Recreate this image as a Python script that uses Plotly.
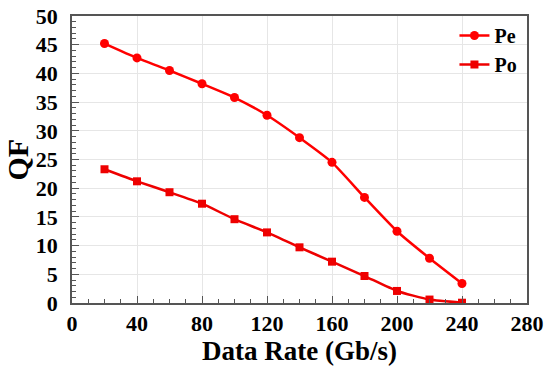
import plotly.graph_objects as go

data_rate = [20, 40, 60, 80, 100, 120, 140, 160, 180, 200, 220, 240]
pe = [45.2, 42.7, 40.5, 38.2, 35.8, 32.7, 28.8, 24.5, 18.4, 12.5, 7.8, 3.4]
po = [23.3, 21.2, 19.3, 17.3, 14.6, 12.3, 9.7, 7.2, 4.7, 2.1, 0.6, 0.05]

font = "Liberation Serif"
fig = go.Figure()
fig.add_trace(go.Scatter(x=data_rate, y=pe, name="<b>Pe</b>", mode="lines+markers",
                         line=dict(color="#ff0000", width=2.5, shape="spline", smoothing=0.5),
                         marker=dict(symbol="circle", size=9, color="#ff0000")))
fig.add_trace(go.Scatter(x=data_rate, y=po, name="<b>Po</b>", mode="lines+markers",
                         line=dict(color="#ee0000", width=2.5, shape="spline", smoothing=0.5),
                         marker=dict(symbol="square", size=8, color="#ee0000")))

axis_common = dict(showline=True, linecolor="#555555", linewidth=1.5, mirror=True,
                   showgrid=True, gridcolor="#e6e6e6", gridwidth=1,
                   ticks="inside", ticklen=7, tickcolor="#555555", zeroline=False,
                   automargin=False,
                   tickfont=dict(family=font, size=22, color="black"))
fig.update_xaxes(range=[0, 280], dtick=40, tick0=0,
                 minor=dict(dtick=10, ticks="inside", ticklen=4, tickcolor="#555555", showgrid=False),
                 title=dict(text="<b>Data Rate (Gb/s)</b>", font=dict(family=font, size=27, color="black"), standoff=0),
                 ticklabelstandoff=0,
                 tickprefix="<b>", ticksuffix="</b>", **axis_common)
fig.update_yaxes(range=[0, 50], dtick=5, tick0=0,
                 minor=dict(dtick=1, ticks="inside", ticklen=4, tickcolor="#555555", showgrid=False),
                 ticklabelstandoff=8,
                 tickprefix="<b>", ticksuffix="</b>", **axis_common)
fig.add_annotation(text="<b>QF</b>", xref="paper", yref="paper", x=0, y=0.5,
                   xshift=-55, xanchor="center", yanchor="middle", textangle=-90,
                   showarrow=False, font=dict(family=font, size=30, color="black"))
fig.update_layout(width=550, height=370, margin=dict(l=72, r=23, t=16, b=67),
                  plot_bgcolor="white", paper_bgcolor="white",
                  legend=dict(x=0.99, y=1.0, xanchor="right", yanchor="top",
                              bgcolor="rgba(0,0,0,0)", itemwidth=30,
                              font=dict(family=font, size=20, color="black")),
                  showlegend=True)
fig.write_html("out.html", config={"displayModeBar": False},
               post_script="document.body.style.margin='0';")
